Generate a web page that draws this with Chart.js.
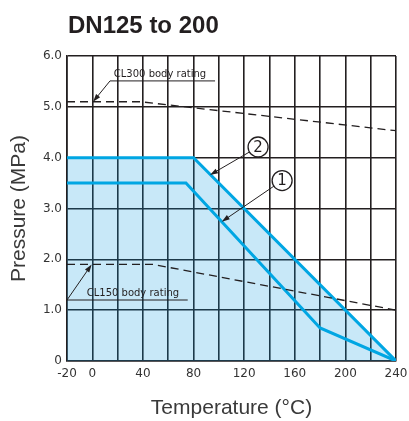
<!DOCTYPE html>
<html lang="en">
<head>
<meta charset="UTF-8">
<title>DN125 to 200</title>
<script src="https://cdn.jsdelivr.net/npm/chart.js"></script>
<style>
  body { margin: 0; background: #fff; }
  #wrap { width: 409px; height: 421px; }
</style>
</head>
<body>
<div id="wrap"><canvas id="ratingChart" width="409" height="421"></canvas></div>
<script>
// pressure / temperature points (°C, MPa)
const line1Temp = [-20, 74, 180, 240];
const line1Press = [3.5, 3.5, 0.65, 0];
const line2Temp = [-20, 80, 240];
const line2Press = [4.0, 4.0, 0];
const cl300Temp = [-20, 38, 240];
const cl300Press = [5.1, 5.1, 4.53];
const cl150Temp = [-20, 48, 240];
const cl150Press = [1.9, 1.9, 1.0];

const xTickLabels = [-20, 0, 40, 80, 120, 160, 200, 240];
const yTickLabels = ['0', '1.0', '2.0', '3.0', '4.0', '5.0', '6.0'];

const ink = '#231f20';
const blue = '#00a6e3';

function pts(t, p) {
    return t.map((v, i) => ({ x: v, y: p[i] }));
}

function arrow(ctx, x0, y0, x1, y1) {
    const a = Math.atan2(y1 - y0, x1 - x0);
    ctx.beginPath();
    ctx.moveTo(x0, y0);
    ctx.lineTo(x1 - 5 * Math.cos(a), y1 - 5 * Math.sin(a));
    ctx.stroke();
    ctx.beginPath();
    ctx.moveTo(x1, y1);
    ctx.lineTo(x1 - 8 * Math.cos(a) + 2.6 * Math.sin(a), y1 - 8 * Math.sin(a) - 2.6 * Math.cos(a));
    ctx.lineTo(x1 - 8 * Math.cos(a) - 2.6 * Math.sin(a), y1 - 8 * Math.sin(a) + 2.6 * Math.cos(a));
    ctx.closePath();
    ctx.fill();
}

function circled(ctx, cx, cy, tx, ty, label) {
    const r = 10;
    const a = Math.atan2(ty - cy, tx - cx);
    ctx.beginPath();
    ctx.arc(cx, cy, r, 0, Math.PI * 2);
    ctx.fillStyle = '#fff';
    ctx.fill();
    ctx.lineWidth = 1.3;
    ctx.stroke();
    ctx.fillStyle = ink;
    ctx.font = '15px "DejaVu Sans", sans-serif';
    ctx.textAlign = 'center';
    ctx.textBaseline = 'middle';
    ctx.fillText(label, cx, cy + 1);
    ctx.lineWidth = 1;
    arrow(ctx, cx + r * Math.cos(a), cy + r * Math.sin(a), tx, ty);
}

// titles, rating labels and the circled curve markers
const extras = {
    id: 'extras',
    afterDraw(chart) {
        const { ctx, chartArea, scales } = chart;
        const px = v => scales.x.getPixelForValue(v);
        const py = v => scales.y.getPixelForValue(v);

        ctx.save();
        ctx.fillStyle = ink;
        ctx.textBaseline = 'alphabetic';
        ctx.textAlign = 'left';
        ctx.font = 'bold 24px "Liberation Sans", Arial, sans-serif';
        ctx.fillText('DN125 to 200', 68, 33);

        ctx.fillStyle = '#3a3a3a';
        ctx.font = '21px "Liberation Sans", Arial, sans-serif';
        ctx.textAlign = 'center';
        ctx.fillText('Temperature (°C)', (chartArea.left + chartArea.right) / 2, 414);
        ctx.save();
        ctx.translate(25, (chartArea.top + chartArea.bottom) / 2);
        ctx.rotate(-Math.PI / 2);
        ctx.fillText('Pressure (MPa)', 0, 0);
        ctx.restore();

        ctx.strokeStyle = ink;
        ctx.fillStyle = ink;
        ctx.lineWidth = 1;
        ctx.font = '10px "DejaVu Sans", sans-serif';
        ctx.textAlign = 'left';

        // CL300 body rating
        let uy = py(5.51);
        ctx.beginPath();
        ctx.moveTo(px(14), uy);
        ctx.lineTo(px(97), uy);
        ctx.stroke();
        ctx.fillText('CL300 body rating', px(17), uy - 4);
        arrow(ctx, px(14), uy, px(0.6), py(5.1));

        // CL150 body rating
        uy = py(1.2);
        ctx.beginPath();
        ctx.moveTo(px(-20), uy);
        ctx.lineTo(px(75.4), uy);
        ctx.stroke();
        ctx.fillText('CL150 body rating', px(-4.4), uy - 4);
        arrow(ctx, px(-20), uy, px(-0.5), py(1.9));

        circled(ctx, px(131), py(4.21), px(93), py(3.66), '2');
        circled(ctx, px(150), py(3.55), px(102.3), py(2.74), '1');
        ctx.restore();
    }
};

const ctx = document.getElementById('ratingChart').getContext('2d');
new Chart(ctx, {
    type: 'line',
    data: {
        datasets: [
            {
                label: 'CL300 body rating',
                data: pts(cl300Temp, cl300Press),
                borderColor: ink,
                borderWidth: 1.3,
                borderDash: [8, 5],
                pointRadius: 0,
                fill: false
            },
            {
                label: 'CL150 body rating',
                data: pts(cl150Temp, cl150Press),
                borderColor: ink,
                borderWidth: 1.3,
                borderDash: [8, 5],
                pointRadius: 0,
                fill: false
            },
            {
                label: '1',
                data: pts(line1Temp, line1Press),
                borderColor: blue,
                borderWidth: 3,
                borderJoinStyle: 'miter',
                pointRadius: 0,
                fill: false
            },
            {
                label: '2',
                data: pts(line2Temp, line2Press),
                borderColor: blue,
                borderWidth: 3,
                borderJoinStyle: 'miter',
                pointRadius: 0,
                // translucent so the grid still shows through
                backgroundColor: 'rgba(5, 150, 223, 0.22)',
                fill: 'origin'
            }
        ]
    },
    options: {
        responsive: false,
        animation: false,
        layout: { padding: { top: 56, right: 13, bottom: 0, left: 0 } },
        plugins: {
            legend: { display: false },
            tooltip: { enabled: false }
        },
        scales: {
            x: {
                type: 'linear',
                min: -20,
                max: 240,
                afterFit: s => {
                    s.height = 60;
                    s.paddingLeft = 0;
                    s.paddingRight = 0;
                },
                grid: { color: ink, lineWidth: 1.6, drawTicks: false },
                border: { color: ink, width: 1.6 },
                ticks: {
                    stepSize: 20,
                    padding: 6,
                    maxRotation: 0,
                    autoSkip: false,
                    color: '#333',
                    font: { family: '"DejaVu Sans", sans-serif', size: 12 },
                    callback: v => xTickLabels.includes(v) ? String(v) : ''
                }
            },
            y: {
                min: 0,
                max: 6,
                afterFit: s => { s.width = 67; },
                grid: { color: ink, lineWidth: 1.4, drawTicks: false },
                border: { color: ink, width: 1.6 },
                ticks: {
                    stepSize: 1,
                    padding: 5,
                    color: '#333',
                    font: { family: '"DejaVu Sans", sans-serif', size: 12 },
                    callback: v => yTickLabels[Math.round(v)]
                }
            }
        }
    },
    plugins: [extras]
});
</script>
</body>
</html>
